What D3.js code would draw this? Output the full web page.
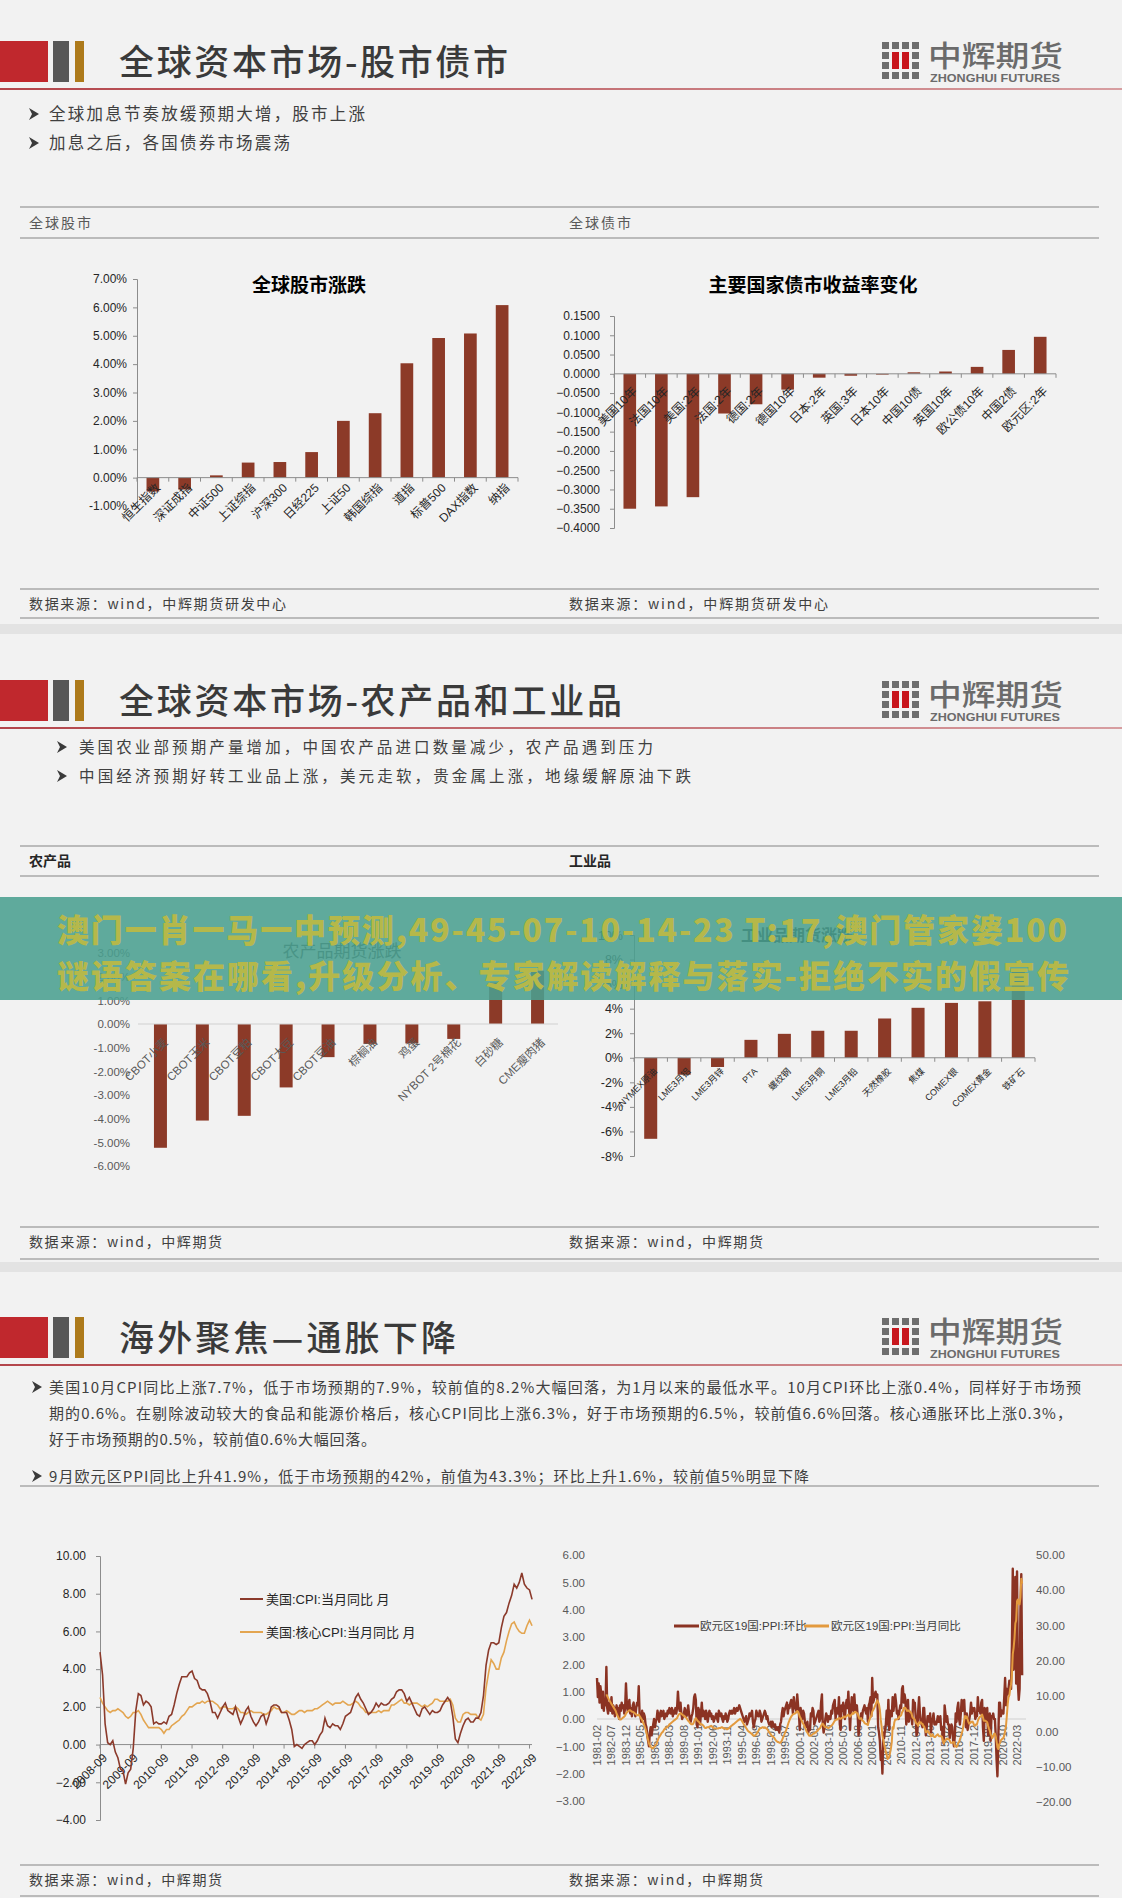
<!DOCTYPE html>
<html><head><meta charset="utf-8">
<script src="https://cdn.jsdelivr.net/npm/d3@7"></script>
<style>html,body{margin:0;padding:0;background:#f2f2f2;} svg{display:block}</style>
</head><body>
<svg id="c" width="1122" height="1898"></svg>
<script>
// ---------------- DATA ----------------
const stockCats = ["恒生指数","深证成指","中证500","上证综指","沪深300","日经225","上证50","韩国综指","道指","标普500","DAX指数","纳指"];
const stockVals = [-0.49,-0.42,0.08,0.53,0.55,0.90,2.00,2.27,4.03,4.92,5.08,6.08];
const stockTicks = [-1,0,1,2,3,4,5,6,7];

const bondCats = ["美国10年","法国10年","美国:2年","法国:2年","德国:2年","德国10年","日本:2年","英国:3年","日本10年","中国10债","英国10年","欧公债10年","中国2债","欧元区:2年"];
const bondVals = [-0.350,-0.344,-0.320,-0.103,-0.079,-0.041,-0.010,-0.005,0.000,0.004,0.006,0.018,0.062,0.096];
const bondTicks = [-0.4,-0.35,-0.3,-0.25,-0.2,-0.15,-0.1,-0.05,0,0.05,0.1,0.15];

const agCats = ["CBOT小麦","CBOT玉米","CBOT豆粕","CBOT大豆","CBOT豆油","棕榈油","鸡蛋","NYBOT 2号棉花","白砂糖","CME瘦肉猪"];
const agVals = [-5.23,-4.08,-3.88,-2.68,-1.40,-0.84,-0.82,-0.63,1.75,2.25];
const agTicks = [-6,-5,-4,-3,-2,-1,0,1,2,3];

const indCats = ["NYMEX原油","LME3月铝","LME3月锌","PTA","螺纹钢","LME3月铜","LME3月铅","天然橡胶","焦煤","COMEX银","COMEX黄金","铁矿石"];
const indVals = [-6.6,-1.38,-0.75,1.46,1.95,2.2,2.2,3.2,4.07,4.47,4.6,7.0];
const indTicks = [-8,-6,-4,-2,0,2,4,6,8,10];

// US CPI YoY, monthly from 2008-09 to 2022-10
const cpiYoY = [4.9,3.7,1.1,0.1,
 0.0,0.2,-0.4,-0.7,-1.3,-1.4,-2.1,-1.5,-1.3,-0.2,1.8,2.7,
 2.6,2.1,2.3,2.2,2.0,1.1,1.2,1.1,1.1,1.2,1.1,1.5,
 1.6,2.1,2.7,3.2,3.6,3.6,3.6,3.8,3.9,3.5,3.4,3.0,
 2.9,2.9,2.7,2.3,1.7,1.7,1.4,1.7,2.0,2.2,1.8,1.7,
 1.6,2.0,1.5,1.1,1.4,1.8,2.0,1.5,1.2,1.0,1.2,1.5,
 1.6,1.1,1.5,2.0,2.1,2.1,2.0,1.7,1.7,1.7,1.3,0.8,
 -0.1,0.0,-0.1,-0.2,0.0,0.1,0.2,0.2,0.0,0.2,0.5,0.7,
 1.4,1.0,0.9,1.1,1.0,1.0,0.8,1.1,1.5,1.6,1.7,2.1,
 2.5,2.7,2.4,2.2,1.9,1.6,1.7,1.9,2.2,2.0,2.2,2.1,
 2.1,2.2,2.4,2.5,2.8,2.9,2.9,2.7,2.3,2.5,2.2,1.9,
 1.6,1.5,1.9,2.0,1.8,1.6,1.8,1.7,1.7,1.8,2.1,2.3,
 2.5,2.3,1.5,0.3,0.1,0.6,1.0,1.3,1.4,1.2,1.2,1.4,
 1.4,1.7,2.6,4.2,5.0,5.4,5.4,5.3,5.4,6.2,6.8,7.0,
 7.5,7.9,8.5,8.3,8.6,9.1,8.5,8.3,8.2,7.7];
const coreYoY = [2.5,2.2,2.0,1.8,
 1.7,1.8,1.8,1.9,1.8,1.7,1.5,1.4,1.5,1.7,1.7,1.8,
 1.6,1.3,1.1,0.9,0.9,0.9,0.9,0.9,0.8,0.6,0.8,0.8,
 1.0,1.1,1.2,1.3,1.5,1.6,1.8,2.0,2.0,2.1,2.2,2.2,
 2.3,2.2,2.3,2.3,2.3,2.2,2.1,1.9,2.0,2.0,1.9,1.9,
 1.9,2.0,1.9,1.7,1.7,1.6,1.7,1.8,1.7,1.7,1.7,1.7,
 1.6,1.6,1.7,1.8,2.0,1.9,1.9,1.7,1.7,1.8,1.7,1.6,
 1.6,1.7,1.8,1.8,1.7,1.8,1.8,1.8,1.9,1.9,2.0,2.1,
 2.2,2.3,2.2,2.1,2.2,2.2,2.2,2.3,2.2,2.1,2.1,2.2,
 2.3,2.2,2.0,1.9,1.7,1.7,1.7,1.7,1.7,1.8,1.7,1.8,
 1.8,1.8,2.1,2.1,2.2,2.3,2.4,2.2,2.2,2.1,2.2,2.2,
 2.2,2.1,2.0,2.1,2.0,2.1,2.2,2.4,2.4,2.3,2.3,2.3,
 2.3,2.4,2.1,1.4,1.2,1.2,1.6,1.7,1.7,1.6,1.6,1.6,
 1.4,1.3,1.6,3.0,3.8,4.5,4.3,4.0,4.0,4.6,4.9,5.5,
 6.0,6.4,6.5,6.2,6.0,5.9,5.9,6.3,6.6,6.3];
const cpiYears = [2008,2009,2010,2011,2012,2013,2014,2015,2016,2017,2018,2019,2020,2021,2022];
const cpiTicks = [-4,-2,0,2,4,6,8,10];

// Euro area PPI, monthly from 1981-02 to 2022-09
const ppiMoM = [].concat(
 [1.5,0.8,1.3,0.6,1.2,0.9,0.4,1.0,0.3,0.7,0.5],
 [1.9,0.4,0.2,0.6,0.5,0.3,0.8,0.2,0.5,0.4,0.1,0.3],
 [0.5,0.2,0.4,0.0,0.5,0.3,0.6,0.4,0.5,0.2,0.4,1.3],
 [0.6,0.3,0.5,0.7,0.2,0.4,0.1,0.5,0.6,0.3,0.1,0.4],
 [0.6,0.5,1.2,0.2,0.1,-0.1,0.3,0.0,0.2,0.1,-0.2,-0.3],
 [-0.6,-0.8,-1.0,-0.5,-0.3,-0.6,-0.4,-0.2,0.0,-0.3,-0.1,0.0],
 [0.3,0.1,-0.1,0.2,0.3,0.1,0.2,0.3,0.0,0.1,0.2,0.1],
 [0.3,0.2,0.4,0.3,0.2,0.4,0.1,0.3,0.2,0.4,0.2,0.4],
 [1.0,0.5,0.3,0.6,0.2,0.0,0.1,0.2,0.4,0.3,0.1,0.2],
 [0.5,0.2,0.0,-0.1,0.1,0.2,0.4,0.8,0.9,0.7,-0.2,-0.3],
 [0.4,0.3,-0.2,0.2,0.6,0.1,0.3,0.2,0.0,0.3,0.1,-0.1],
 [0.2,0.3,0.1,0.2,0.0,0.1,-0.1,0.0,0.1,0.2,0.0,-0.1],
 [0.3,0.2,0.1,0.2,0.0,-0.1,0.1,0.0,0.2,0.1,-0.1,0.0],
 [0.2,0.3,0.2,0.3,0.2,0.3,0.4,0.2,0.3,0.4,0.3,0.4],
 [0.5,0.4,0.3,0.2,0.1,0.0,-0.1,0.0,0.1,-0.2,-0.1,0.0],
 [0.2,0.1,0.2,0.3,-0.1,-0.3,-0.1,0.0,0.3,0.2,0.1,0.1],
 [0.3,0.2,-0.1,0.0,0.1,0.2,0.3,0.2,0.0,0.1,-0.1,-0.2],
 [-0.2,-0.1,-0.3,-0.1,-0.2,-0.3,-0.2,-0.4,-0.3,-0.4,-0.3,-0.5],
 [-0.2,-0.1,0.2,0.4,0.1,0.3,0.4,0.5,0.6,0.2,0.5,0.4],
 [0.6,0.7,0.5,0.2,0.8,0.5,0.4,0.3,0.9,0.5,0.2,-0.4],
 [0.4,0.1,0.0,0.3,0.2,-0.1,-0.3,-0.2,-0.1,-0.5,-0.3,-0.4],
 [0.2,0.1,0.4,0.3,-0.2,-0.1,0.0,0.1,0.2,0.3,-0.1,0.0],
 [0.6,0.9,-0.2,-0.5,-0.3,0.0,0.2,0.1,-0.1,0.1,0.0,0.0],
 [0.3,0.2,0.5,0.6,0.7,0.0,0.3,0.4,0.2,0.8,-0.2,-0.4],
 [0.5,0.3,0.6,0.2,0.0,0.5,0.7,0.4,1.0,0.3,-0.4,0.3],
 [0.8,0.4,0.3,0.9,0.4,0.3,0.5,0.1,-0.6,-0.3,0.0,0.2],
 [0.0,0.3,0.4,0.5,0.3,0.2,0.4,-0.1,0.5,0.6,0.8,0.1],
 [1.5,0.6,0.7,0.9,1.0,0.8,0.9,-0.3,-0.5,-0.8,-1.5,-1.2],
 [-2.0,-0.5,-0.7,-0.4,-0.2,0.3,-0.2,0.7,-0.4,0.3,0.2,0.1],
 [0.8,0.3,0.6,0.9,0.6,0.2,0.3,0.0,0.3,0.5,0.4,1.1],
 [1.2,0.6,0.9,0.7,-0.2,0.1,0.7,-0.1,0.2,0.1,0.1,-0.2],
 [0.7,0.6,0.6,0.1,-0.6,-0.5,0.3,0.8,0.2,-0.1,-0.2,-0.3],
 [0.4,0.4,-0.2,-0.6,-0.3,0.1,0.1,-0.1,0.2,-0.5,-0.1,0.0],
 [0.2,-0.2,-0.1,-0.2,-0.1,0.1,-0.1,-0.1,0.1,-0.4,-0.3,-0.8],
 [-0.9,0.5,0.2,-0.1,0.1,-0.2,-0.2,-0.7,-0.4,-0.2,-0.3,-0.8],
 [-1.0,-0.6,0.2,-0.1,0.4,0.6,0.0,-0.2,0.2,0.7,0.3,0.6],
 [0.7,0.0,-0.3,0.2,-0.4,-0.2,0.0,0.2,0.6,0.2,0.4,0.3],
 [0.4,0.0,0.1,0.1,0.8,0.3,0.4,0.2,0.6,0.7,-0.3,-0.8],
 [0.4,0.3,-0.1,0.4,-0.6,-0.4,0.2,-0.8,0.1,0.1,0.2,0.0],
 [0.0,-0.6,-1.5,-2.1,-0.7,0.6,0.6,0.1,0.3,0.3,0.2,0.8],
 [1.5,0.5,1.1,0.9,1.1,1.4,1.3,1.1,2.7,5.5,1.8,2.9],
 [5.2,1.3,5.4,1.3,0.7,1.1,4.0,5.3,1.6]
);
const ppiYoY = [].concat(
 [null,null,null,null,null,null,null,null,null,null,null],
 [10.5,10.0,9.5,9.0,8.6,8.2,7.8,7.4,7.0,6.6,6.2,5.8],
 [5.0,4.5,4.0,3.6,3.4,3.4,3.6,3.8,4.0,4.2,4.5,5.0],
 [5.4,5.6,5.8,6.0,6.0,5.8,5.6,5.6,5.4,5.2,5.0,4.8],
 [4.6,4.6,4.8,4.4,4.0,3.6,3.2,2.6,2.0,1.4,0.6,-0.4],
 [-1.4,-2.4,-3.4,-4.0,-4.4,-4.6,-4.8,-4.6,-4.4,-4.2,-3.8,-3.4],
 [-2.8,-2.0,-1.6,-1.2,-0.8,-0.4,-0.2,0.2,0.6,0.8,1.0,1.2],
 [1.4,1.6,2.0,2.2,2.4,2.6,2.8,3.0,3.2,3.4,3.6,3.8],
 [4.4,4.8,5.0,5.2,5.0,4.8,4.6,4.4,4.2,4.0,3.8,3.4],
 [3.0,2.8,2.4,2.2,2.0,2.0,2.2,2.8,3.4,3.8,3.4,3.0],
 [2.8,2.6,2.2,2.0,2.0,1.8,1.6,1.2,1.0,1.0,1.2,1.2],
 [1.2,1.4,1.4,1.6,1.4,1.2,1.0,0.8,0.8,0.8,0.8,0.8],
 [1.0,1.0,1.0,1.2,1.2,1.0,1.0,0.8,0.8,0.6,0.6,0.8],
 [1.0,1.2,1.4,1.6,1.8,2.0,2.2,2.4,2.6,2.8,3.0,3.2],
 [3.4,3.6,3.4,3.0,2.6,2.2,1.8,1.4,1.0,0.6,0.2,0.0],
 [-0.2,-0.4,-0.6,-0.8,-1.0,-1.2,-1.2,-1.0,-0.8,-0.4,0.0,0.4],
 [0.8,1.0,1.0,1.2,1.2,1.0,1.2,1.0,0.8,0.6,0.2,-0.2],
 [-0.6,-0.8,-1.2,-1.4,-1.6,-1.8,-2.2,-2.6,-2.8,-3.0,-3.0,-3.2],
 [-3.2,-3.0,-2.6,-2.0,-1.4,-0.8,-0.2,0.4,1.0,1.8,2.6,3.2],
 [3.8,4.2,4.6,4.8,5.0,5.0,5.2,5.4,5.8,5.6,5.0,4.2],
 [3.8,3.2,2.6,2.2,1.8,1.2,0.6,0.0,-0.4,-0.8,-1.2,-1.2],
 [-1.2,-1.0,-0.8,-0.6,-0.6,-0.4,-0.2,0.0,0.2,0.6,0.8,1.0],
 [1.6,2.0,2.2,1.8,1.4,1.2,1.2,1.2,1.0,1.0,1.2,1.4],
 [1.6,1.8,2.2,2.6,3.0,3.2,3.4,3.4,3.6,3.8,3.6,3.6],
 [3.8,3.8,4.0,4.2,4.0,4.2,4.4,4.6,4.8,4.4,4.2,4.6],
 [4.8,5.2,5.0,5.4,5.6,5.4,5.2,5.0,4.2,3.6,3.6,3.8],
 [3.2,3.0,2.8,2.4,2.2,2.2,2.0,1.8,2.8,3.4,4.2,4.2],
 [5.6,6.0,6.4,7.0,7.6,8.2,8.8,8.2,7.6,6.2,3.4,1.4],
 [-1.2,-2.4,-3.6,-4.8,-5.8,-6.6,-7.8,-7.6,-7.2,-6.0,-4.8,-3.0],
 [1.2,0.8,2.6,3.4,3.4,3.4,3.6,3.8,4.2,4.4,4.6,5.4],
 [5.8,6.6,6.8,6.6,6.2,5.8,6.0,5.8,5.8,5.4,5.2,4.2],
 [3.8,3.6,3.4,2.6,2.2,2.2,1.6,2.6,2.4,2.6,2.2,2.2],
 [1.6,1.4,0.6,-0.2,-0.2,0.2,0.0,-0.6,-0.8,-1.4,-1.2,-0.8],
 [-1.4,-1.6,-1.6,-1.2,-1.0,-0.8,-1.2,-1.4,-1.4,-1.4,-1.6,-2.6],
 [-3.4,-2.8,-2.4,-2.2,-2.0,-2.2,-2.2,-2.6,-3.2,-3.2,-3.2,-3.0],
 [-3.0,-4.2,-4.2,-4.4,-4.0,-3.2,-3.0,-2.2,-1.6,-0.6,0.2,1.6],
 [3.2,4.4,3.8,4.2,3.4,2.6,2.2,2.4,2.8,2.6,2.8,2.2],
 [1.6,1.6,2.0,2.0,3.0,3.6,4.0,4.2,4.4,4.8,4.0,3.0],
 [3.0,3.0,2.8,2.6,1.6,0.8,0.2,-0.8,-1.2,-1.9,-1.4,-0.7],
 [-0.6,-1.3,-2.8,-4.5,-5.0,-3.7,-3.3,-2.5,-2.3,-2.0,-1.9,-1.1],
 [0.2,1.5,4.3,7.6,9.7,10.2,12.1,13.4,16.0,21.9,23.7,26.3],
 [30.6,31.5,36.9,37.4,36.3,36.0,38.0,43.3,41.9]
);
const ppiLeftTicks = [-3,-2,-1,0,1,2,3,4,5,6];
const ppiRightTicks = [-20,-10,0,10,20,30,40,50];

// texts
const titles = ["全球资本市场-股市债市","全球资本市场-农产品和工业品","海外聚焦—通胀下降"];
const bullets1 = ["全球加息节奏放缓预期大增，股市上涨","加息之后，各国债券市场震荡"];
const bullets2 = ["美国农业部预期产量增加，中国农产品进口数量减少，农产品遇到压力","中国经济预期好转工业品上涨，美元走软，贵金属上涨，地缘缓解原油下跌"];
const bullets3 = ["美国10月CPI同比上涨7.7%，低于市场预期的7.9%，较前值的8.2%大幅回落，为1月以来的最低水平。10月CPI环比上涨0.4%，同样好于市场预",
 "期的0.6%。在剔除波动较大的食品和能源价格后，核心CPI同比上涨6.3%，好于市场预期的6.5%，较前值6.6%回落。核心通胀环比上涨0.3%，",
 "好于市场预期的0.5%，较前值0.6%大幅回落。",
 "9月欧元区PPI同比上升41.9%，低于市场预期的42%，前值为43.3%；环比上升1.6%，较前值5%明显下降"];
const bannerLines = ["澳门一肖一马一中预测,49-45-07-10-14-23 T:17,澳门管家婆100","谜语答案在哪看,升级分析、专家解读解释与落实-拒绝不实的假宣传"];

// ---------------- DRAW ----------------
const CJK = "'Noto Sans CJK SC', sans-serif";
const SANS = "'Liberation Sans', Arial, 'Noto Sans CJK SC', sans-serif";
const svg = d3.select("#c");
svg.append("rect").attr("width",1122).attr("height",1898).attr("fill","#f2f2f2");

const defs = svg.append("defs");
const lg = defs.append("linearGradient").attr("id","hl").attr("x1","0").attr("x2","1").attr("y1","0").attr("y2","0");
lg.append("stop").attr("offset","0").attr("stop-color","#b3454b");
lg.append("stop").attr("offset","0.6").attr("stop-color","#c7787c");
lg.append("stop").attr("offset","1").attr("stop-color","#d79ea1");

[[624,10],[1262,10]].forEach(([y,h])=>{
  svg.append("rect").attr("x",0).attr("y",y).attr("width",1122).attr("height",h).attr("fill","#e3e3e3");
});

function txt(x,y,s,opt={}){
  const t = svg.append("text").attr("x",x).attr("y",y).text(s)
    .attr("font-family",opt.family||CJK).attr("font-size",opt.size||14)
    .attr("fill",opt.fill||"#404040").attr("font-weight",opt.weight||400);
  if(opt.w){ t.attr("textLength",opt.w).attr("lengthAdjust",opt.adj||"spacing"); }
  if(opt.anchor) t.attr("text-anchor",opt.anchor);
  return t;
}
function hline(y,x1=20,x2=1099,c="#a9a9a9",w=1.5){
  svg.append("line").attr("x1",x1).attr("x2",x2).attr("y1",y).attr("y2",y).attr("stroke",c).attr("stroke-width",w);
}
function arrow(x,y){
  svg.append("path").attr("d",`M${x},${y-6} L${x+10},${y} L${x},${y+6} L${x+3},${y} Z`).attr("fill","#3a3a3a");
}
function logo(off){
  const xs=[882,892,902,912], ys=[off+42,off+52,off+62,off+72];
  ys.forEach((y,r)=>xs.forEach((x,c)=>{
    if((r===1||r===2)&&(c===1||c===2)) return;
    svg.append("rect").attr("x",x).attr("y",y).attr("width",7).attr("height",7).attr("fill","#6e6e6e");
  }));
  svg.append("rect").attr("x",892).attr("y",off+52).attr("width",7).attr("height",17).attr("fill","#c8161d");
  svg.append("rect").attr("x",902).attr("y",off+52).attr("width",7).attr("height",17).attr("fill","#c8161d");
  txt(928,off+67,"中辉期货",{size:29,weight:500,fill:"#6b6b6b",w:135,adj:"spacingAndGlyphs"});
  txt(930,off+82,"ZHONGHUI FUTURES",{family:SANS,size:11,weight:700,fill:"#6b6b6b",w:130,adj:"spacingAndGlyphs"});
}
function header(off,title,tw){
  svg.append("rect").attr("x",0).attr("y",off+41).attr("width",48).attr("height",41).attr("fill","#c0282d");
  svg.append("rect").attr("x",53).attr("y",off+41).attr("width",16).attr("height",41).attr("fill","#585858");
  svg.append("rect").attr("x",75).attr("y",off+41).attr("width",9).attr("height",41).attr("fill","#ad7a1b");
  txt(119,off+75,title,{size:35,weight:500,fill:"#3a3a3a",w:tw});
  svg.append("rect").attr("x",0).attr("y",off+88).attr("width",1122).attr("height",2).attr("fill","url(#hl)");
  logo(off);
}

header(0,titles[0],389);
header(639,titles[1],503);
header(1276,titles[2],337);

arrow(29,114); txt(49,120,bullets1[0],{size:16.5,w:316});
arrow(29,143); txt(49,149,bullets1[1],{size:16.5,w:241});
arrow(57,747); txt(79,753,bullets2[0],{size:15.5,w:574});
arrow(57,776); txt(79,782,bullets2[1],{size:15.5,w:612});
arrow(32,1387); txt(49,1393,bullets3[0],{size:15,w:1032});
txt(49,1419,bullets3[1],{size:15,w:1023});
txt(49,1445,bullets3[2],{size:15,w:327});
arrow(32,1476); txt(49,1482,bullets3[3],{size:15,w:760});
hline(1486,20,1099,"#a9a9a9",1.5);

hline(207); hline(238); hline(589); hline(618);
txt(29,228,"全球股市",{size:14,fill:"#595959",w:62});
txt(569,228,"全球债市",{size:14,fill:"#595959",w:62});
txt(29,609,"数据来源：wind，中辉期货研发中心",{size:14,fill:"#404040",w:257});
txt(569,609,"数据来源：wind，中辉期货研发中心",{size:14,fill:"#404040",w:259});

hline(846); hline(876); hline(1227); hline(1259);
txt(29,866,"农产品",{size:14,weight:700,fill:"#262626"});
txt(569,866,"工业品",{size:14,weight:700,fill:"#262626"});
txt(29,1247,"数据来源：wind，中辉期货",{size:14,fill:"#404040",w:193});
txt(569,1247,"数据来源：wind，中辉期货",{size:14,fill:"#404040",w:194});

hline(1865); hline(1896);
txt(29,1885,"数据来源：wind，中辉期货",{size:14,fill:"#404040",w:193});
txt(569,1885,"数据来源：wind，中辉期货",{size:14,fill:"#404040",w:194});

const BAR = "#8c3a28";

function styleAxis(g,size,fill,lineC){
  g.selectAll("text").attr("font-family",SANS).attr("font-size",size).attr("fill",fill);
  g.selectAll("line").attr("stroke",lineC);
  g.select(".domain").attr("stroke",lineC);
}

function barChart(o){
  const y = d3.scaleLinear().domain(o.dom).range(o.yr);
  const x = d3.scaleBand().domain(o.cats).range(o.xr).paddingInner(o.pi).paddingOuter(o.pi/2);
  const y0 = y(0);
  const g = svg.append("g");
  g.selectAll("rect.b").data(o.vals).join("rect")
    .attr("x",(d,i)=>x(o.cats[i])).attr("width",x.bandwidth())
    .attr("y",d=>Math.min(y(d),y0)).attr("height",d=>Math.max(0.8,Math.abs(y(d)-y0)))
    .attr("fill",BAR);
  const ax = g.append("g").attr("transform",`translate(${o.axisX},0)`)
    .call(d3.axisLeft(y).tickValues(o.ticks).tickFormat(o.fmt).tickSize(o.showAxis?4:0).tickPadding(o.tickPad));
  styleAxis(ax,o.fs,o.tickFill,"#8c8c8c");
  if(!o.showAxis) ax.select(".domain").remove();
  g.append("line").attr("x1",o.zx[0]).attr("x2",o.zx[1]).attr("y1",y0).attr("y2",y0)
    .attr("stroke",o.showAxis?"#8c8c8c":"#d0d0d0").attr("stroke-width",1);
  if(o.showAxis){
    const step = x.step();
    d3.range(o.cats.length+1).forEach(k=>{
      const xx = o.xr[0]+k*step;
      g.append("line").attr("x1",xx).attr("x2",xx).attr("y1",y0).attr("y2",y0+4).attr("stroke","#8c8c8c");
    });
  }
  g.selectAll("text.c").data(o.cats).join("text")
    .attr("transform",d=>`translate(${x(d)+x.bandwidth()/2+o.lx},${y0+o.ly}) rotate(-45)`)
    .attr("text-anchor","end").attr("font-family",SANS).attr("font-size",o.lfs).attr("fill",o.lfill)
    .text(d=>d);
  txt(o.tx,o.ty,o.title,{size:o.tfs,weight:o.tw,fill:o.tfill,anchor:"middle"});
}

barChart({cats:stockCats,vals:stockVals,dom:[-1,7],yr:[506,279],xr:[137,518],pi:0.6,axisX:137,showAxis:true,
  ticks:stockTicks,fmt:d=>d.toFixed(2)+"%",fs:12,tickFill:"#262626",tickPad:6,zx:[137,518],
  lx:8,ly:11,lfs:12,lfill:"#262626",title:"全球股市涨跌",tx:309,ty:292,tfs:19,tw:700,tfill:"#000"});

barChart({cats:bondCats,vals:bondVals,dom:[-0.4,0.15],yr:[528,316],xr:[614,1056],pi:0.6,axisX:614,showAxis:true,
  ticks:bondTicks,fmt:d3.format(".4f"),fs:12,tickFill:"#262626",tickPad:10,zx:[614,1056],
  lx:8,ly:18,lfs:12,lfill:"#262626",title:"主要国家债市收益率变化",tx:813,ty:292,tfs:19,tw:700,tfill:"#000"});

barChart({cats:agCats,vals:agVals,dom:[-6,3],yr:[1166,953],xr:[139.5,558.5],pi:0.69,axisX:130,showAxis:false,
  ticks:agTicks,fmt:d=>d.toFixed(2)+"%",fs:11.5,tickFill:"#595959",tickPad:0,zx:[138,558],
  lx:8,ly:19,lfs:11.5,lfill:"#595959",title:"农产品期货涨跌",tx:342,ty:957,tfs:17,tw:400,tfill:"#404040"});

barChart({cats:indCats,vals:indVals,dom:[-8,10],yr:[1156,935],xr:[634,1035],pi:0.61,axisX:634,showAxis:true,
  ticks:indTicks,fmt:d=>d+"%",fs:12.5,tickFill:"#262626",tickPad:7,zx:[634,1035],
  lx:7,ly:14,lfs:9,lfill:"#262626",title:"工业品期货涨跌",tx:797,ty:941,tfs:16,tw:700,tfill:"#1a1a1a"});

// ---- CPI chart ----
(function(){
  const x = d3.scaleLinear().domain([0,168]).range([100,529.5]);
  const y = d3.scaleLinear().domain([-4,10]).range([1820,1556]);
  const g = svg.append("g");
  const ax = g.append("g").attr("transform","translate(100,0)")
    .call(d3.axisLeft(y).tickValues(cpiTicks).tickFormat(d3.format(".2f")).tickSize(4).tickPadding(10));
  styleAxis(ax,12,"#262626","#8c8c8c");
  const y0 = y(0);
  g.append("line").attr("x1",100).attr("x2",532).attr("y1",y0).attr("y2",y0).attr("stroke","#8c8c8c");
  cpiYears.forEach((yr,k)=>{
    const xx = x(k*12);
    g.append("line").attr("x1",xx).attr("x2",xx).attr("y1",y0).attr("y2",y0+4).attr("stroke","#8c8c8c");
    g.append("text").attr("transform",`translate(${xx+8},${y0+14}) rotate(-45)`).attr("text-anchor","end")
      .attr("font-family",SANS).attr("font-size",12).attr("fill","#262626").text(yr+"-09");
  });
  const line = d3.line().x((d,i)=>x(i)).y(d=>y(d)).curve(d3.curveLinear);
  g.append("path").datum(coreYoY).attr("d",line).attr("fill","none").attr("stroke","#e3a550").attr("stroke-width",1.6);
  g.append("path").datum(cpiYoY).attr("d",line).attr("fill","none").attr("stroke","#8b3a2b").attr("stroke-width",1.6);
  g.append("line").attr("x1",240).attr("x2",263).attr("y1",1599).attr("y2",1599).attr("stroke","#8b3a2b").attr("stroke-width",2);
  txt(266,1604,"美国:CPI:当月同比 月",{family:SANS,size:13,fill:"#262626"});
  g.append("line").attr("x1",240).attr("x2",263).attr("y1",1632).attr("y2",1632).attr("stroke","#e3a550").attr("stroke-width",2);
  txt(266,1637,"美国:核心CPI:当月同比 月",{family:SANS,size:13,fill:"#262626"});
})();

// ---- PPI chart ----
(function(){
  const n = ppiMoM.length;
  const x = d3.scaleLinear().domain([0,n-1]).range([597,597+(n-1)*0.852]);
  const yL = d3.scaleLinear().domain([-3,6]).range([1801,1555]);
  const yR = d3.scaleLinear().domain([-20,50]).range([1802,1555]);
  const g = svg.append("g");
  const axL = g.append("g").attr("transform","translate(585,0)")
    .call(d3.axisLeft(yL).tickValues(ppiLeftTicks).tickFormat(d3.format(".2f")).tickSize(0).tickPadding(0));
  styleAxis(axL,11.5,"#595959","#8c8c8c"); axL.select(".domain").remove();
  const axR = g.append("g").attr("transform","translate(1036,0)")
    .call(d3.axisRight(yR).tickValues(ppiRightTicks).tickFormat(d3.format(".2f")).tickSize(0).tickPadding(0));
  styleAxis(axR,11.5,"#595959","#8c8c8c"); axR.select(".domain").remove();
  const y0 = yL(0);
  g.append("line").attr("x1",597).attr("x2",1026).attr("y1",y0).attr("y2",y0).attr("stroke","#d0d0d0");
  d3.range(0,n,17).forEach(i=>{
    const yr = 1981+Math.floor((1+i)/12), m = (1+i)%12+1;
    g.append("text").attr("transform",`translate(${x(i)+4},${y0+6}) rotate(-90)`).attr("text-anchor","end")
      .attr("font-family",SANS).attr("font-size",11).attr("fill","#595959")
      .text(yr+"-"+String(m).padStart(2,"0"));
  });
  const lm = d3.line().x((d,i)=>x(i)).y(d=>yL(d));
  const ly = d3.line().defined(d=>d!==null).x((d,i)=>x(i)).y(d=>yR(d));
  g.append("path").datum(ppiMoM).attr("d",lm).attr("fill","none").attr("stroke","#8b3323").attr("stroke-width",2.4).attr("stroke-linejoin","round");
  g.append("path").datum(ppiYoY).attr("d",ly).attr("fill","none").attr("stroke","#e39a3e").attr("stroke-width",2).attr("stroke-linejoin","round");
  g.append("line").attr("x1",674).attr("x2",699).attr("y1",1626).attr("y2",1626).attr("stroke","#8b3323").attr("stroke-width",3);
  txt(700,1630,"欧元区19国:PPI:环比",{family:SANS,size:11.5,fill:"#404040"});
  g.append("line").attr("x1",804).attr("x2",829).attr("y1",1626).attr("y2",1626).attr("stroke","#e39a3e").attr("stroke-width",3);
  txt(831,1630,"欧元区19国:PPI:当月同比",{family:SANS,size:11.5,fill:"#404040"});
})();

// ---- overlay banner ----
svg.append("rect").attr("x",0).attr("y",897).attr("width",1122).attr("height",103).attr("fill","#4a9f8f").attr("opacity",0.88);
txt(57,942,bannerLines[0],{size:32,weight:900,fill:"#b5b84a",w:1010});
txt(57,988,bannerLines[1],{size:32,weight:900,fill:"#b5b84a",w:1012});
</script>
</body></html>
